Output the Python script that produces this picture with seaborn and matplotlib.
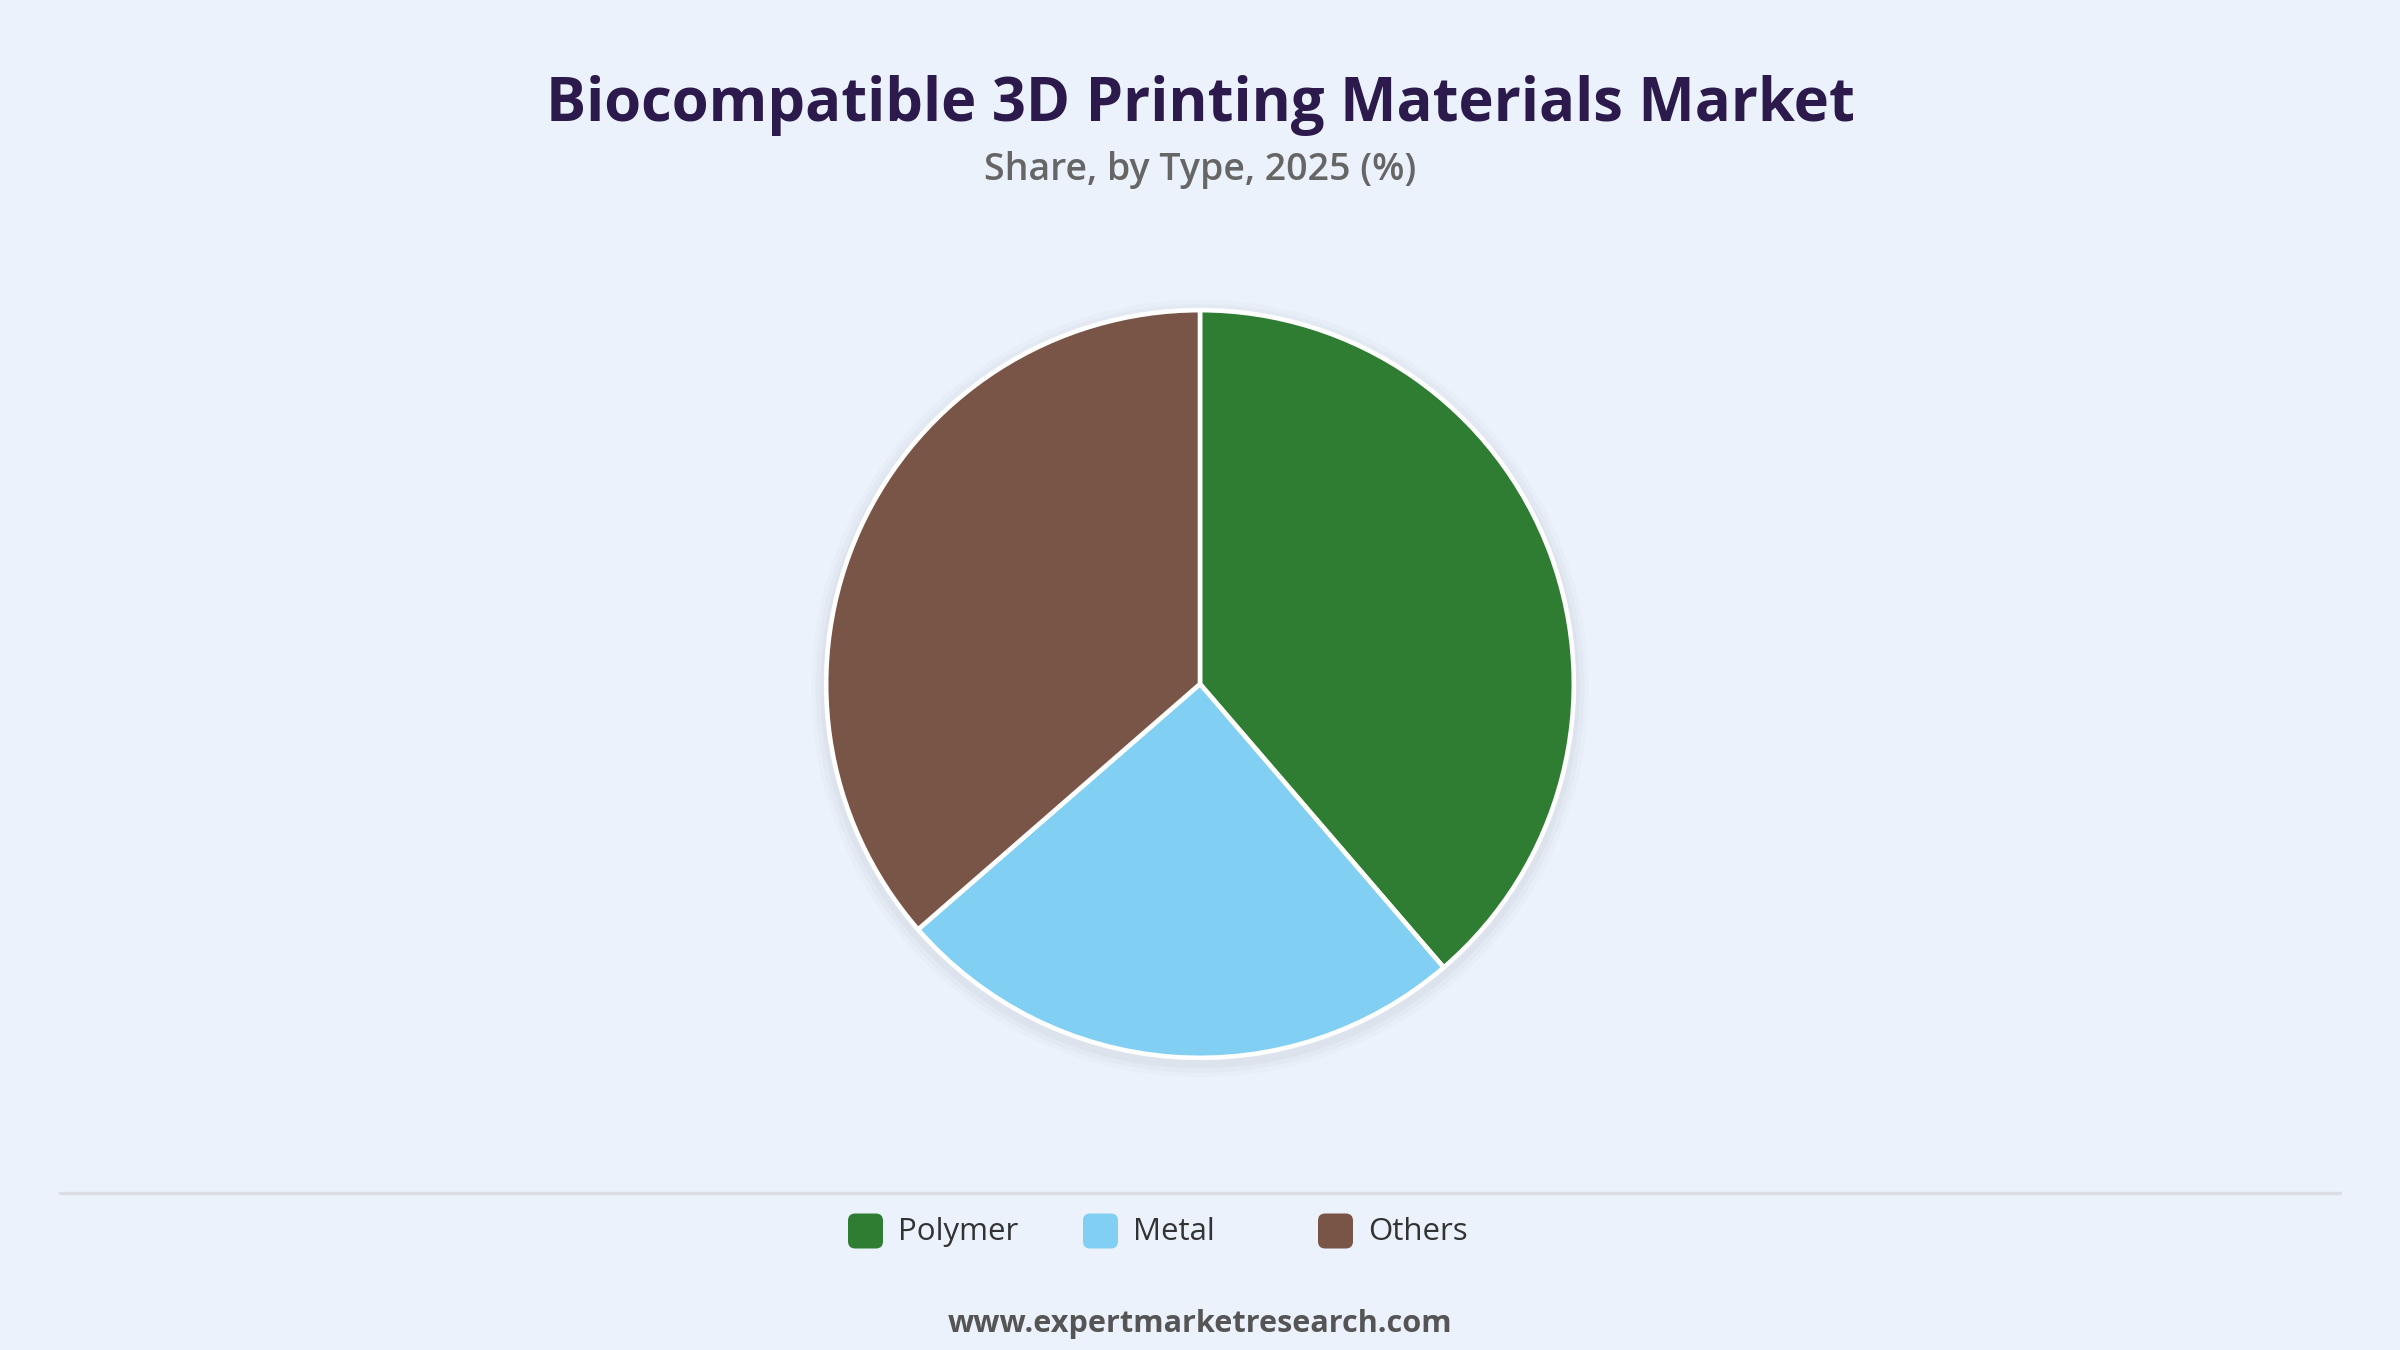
import matplotlib
matplotlib.use("Agg")
import matplotlib.pyplot as plt
import seaborn as sns
from matplotlib.patches import FancyBboxPatch, Circle
from matplotlib.lines import Line2D

# Data
types = ["Polymer", "Metal", "Others"]
shares = [38.7, 24.9, 36.4]
colors = ["#2E7D32", "#81CFF2", "#795548"]

title = "Biocompatible 3D Printing Materials Market"
subtitle = "Share, by Type, 2025 (%)"
footer = "www.expertmarketresearch.com"

bg = "#EBF2FC"

sns.set_theme(style="white")
plt.rcParams["font.family"] = ["Open Sans", "DejaVu Sans"]

W, H = 2400, 1350
fig = plt.figure(figsize=(16, 9), dpi=150, facecolor=bg)

# Pie axes centred at (1200, 684) px, radius 1 -> ~374 px
half = 400
cx, cy = 1200, H - 684
ax = fig.add_axes([(cx - half) / W, (cy - half) / H, 2 * half / W, 2 * half / H])
ax.set_facecolor(bg)
ax.set_xlim(-1.07, 1.07)
ax.set_ylim(-1.07, 1.07)
ax.set_aspect("equal")
ax.axis("off")

# soft shadow
for i, r in enumerate([1.04, 1.028, 1.016]):
    ax.add_patch(Circle((0.0, -0.012), r, color="#b8bcc4", alpha=0.06 + 0.03 * i, lw=0, zorder=0))

ax.pie(shares, colors=colors, startangle=90, counterclock=False, radius=1.0,
       wedgeprops=dict(edgecolor="white", linewidth=2.2), frame=False)
ax.set_xlim(-1.07, 1.07)
ax.set_ylim(-1.07, 1.07)

# Titles
fig.text(0.5, 1 - 105 / H, title, ha="center", va="center", fontsize=28.7,
         fontweight="bold", color="#2B1A4B")
fig.text(0.5, 1 - 170 / H, subtitle, ha="center", va="center", fontsize=18,
         fontweight="semibold", color="#666666")

# Separator line
fig.add_artist(Line2D([60 / W, 2340 / W], [1 - 1193 / H, 1 - 1193 / H],
                      color="#DADDE2", lw=1.6, transform=fig.transFigure))

# Legend
ly = 1 - 1231 / H
x0, step = 848, 235
pw, ph = 35 / W, 35 / H
for i, (name, col) in enumerate(zip(types, colors)):
    lx = (x0 + i * step) / W
    fig.add_artist(FancyBboxPatch((lx, ly - ph / 2), pw, ph,
                                  boxstyle="round,pad=0,rounding_size=0.003",
                                  transform=fig.transFigure, facecolor=col,
                                  edgecolor="none", mutation_aspect=W / H))
    fig.text(lx + 50 / W, ly - 1 / H, name, ha="left", va="center", fontsize=15,
             color="#333333")

fig.text(0.5, 1 - 1324 / H, footer, ha="center", va="center", fontsize=14.7,
         fontweight="bold", color="#555555")

fig.savefig("out.png", dpi=150, facecolor=bg)
